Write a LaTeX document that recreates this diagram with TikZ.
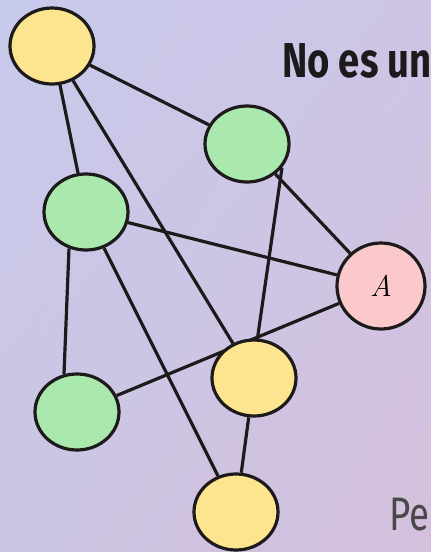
\documentclass[tikz,border=0pt]{standalone}
\usepackage{fontspec}
\setmainfont{Fira Sans}
\newfontfamily\titlefont[FakeStretch=0.78]{Fira Sans}
\newfontfamily\handfont{Latin Modern Roman}
\usetikzlibrary{shapes.geometric,shadings}

\definecolor{bgTL}{HTML}{C8CAEB}
\definecolor{bgTR}{HTML}{CEC5E6}
\definecolor{bgBL}{HTML}{CBC5E4}
\definecolor{bgBR}{HTML}{D4C0DC}
\definecolor{nodeYellow}{HTML}{FDE48F}
\definecolor{nodeGreen}{HTML}{AAE8AD}
\definecolor{nodePink}{HTML}{FBC8CB}
\definecolor{inkDark}{HTML}{1C1A1A}

\pgfdeclarelayer{paper}
\pgfdeclarelayer{lines}
\pgfsetlayers{paper,lines,main}

\tikzset{
  vert/.style={draw=inkDark, line width=3.2pt, ellipse, inner sep=0pt,
    minimum width=84pt, minimum height=76pt},
  yel/.style={vert, fill=nodeYellow},
  grn/.style={vert, fill=nodeGreen},
  pnk/.style={vert, fill=nodePink, minimum width=88pt, minimum height=86pt},
  edge/.style={draw=inkDark, line width=3.2pt}
}

\begin{document}
\begin{tikzpicture}[x=1pt,y=-1pt]
  \useasboundingbox (0,0) rectangle (431,552);
  \begin{pgfonlayer}{paper}
  \shade[upper left=bgTL, upper right=bgTR, lower left=bgBL, lower right=bgBR]
    (0,0) rectangle (431,552);
  \end{pgfonlayer}
  \clip (0,0) rectangle (431,552);

  %% texts on the right
  \node[anchor=base west, inner sep=0pt, text=inkDark] at (282,77) (TT)
    {\titlefont\bfseries\fontsize{49}{52}\selectfont No es un};
  \node[anchor=base west, inner sep=0pt, text=inkDark!80] at (389,530) (PE)
    {\titlefont\fontsize{47}{50}\selectfont Pe};

  %% vertices
  \node[yel] at (52,46) (Y1) {};
  \node[grn] at (247,144) (G1) {};
  \node[grn] at (86,212) (G2) {};
  \node[pnk] at (381,286) (A) {\handfont\itshape\fontsize{30}{32}\selectfont A};
  \node[yel] at (254,378) (Y2) {};
  \node[grn] at (77,412) (G3) {};
  \node[yel] at (236,512) (Y3) {};

  %% edges, below the vertices
  \begin{pgfonlayer}{lines}
  \path[edge] (Y1) -- (G1);
  \path[edge] (Y1) -- (G2);
  \path[edge] (Y1) -- (Y2);
  \path[edge] (G1) -- (A);
  \path[edge] (G1.-34) -- (Y2.85);
  \path[edge] (G2) -- (A);
  \path[edge] (G2.-115) -- (G3.109);
  \path[edge] (G2) -- (Y3);
  \path[edge] (G3) -- (A);
  \path[edge] (Y2) -- (Y3);
  \end{pgfonlayer}
\end{tikzpicture}
\end{document}
